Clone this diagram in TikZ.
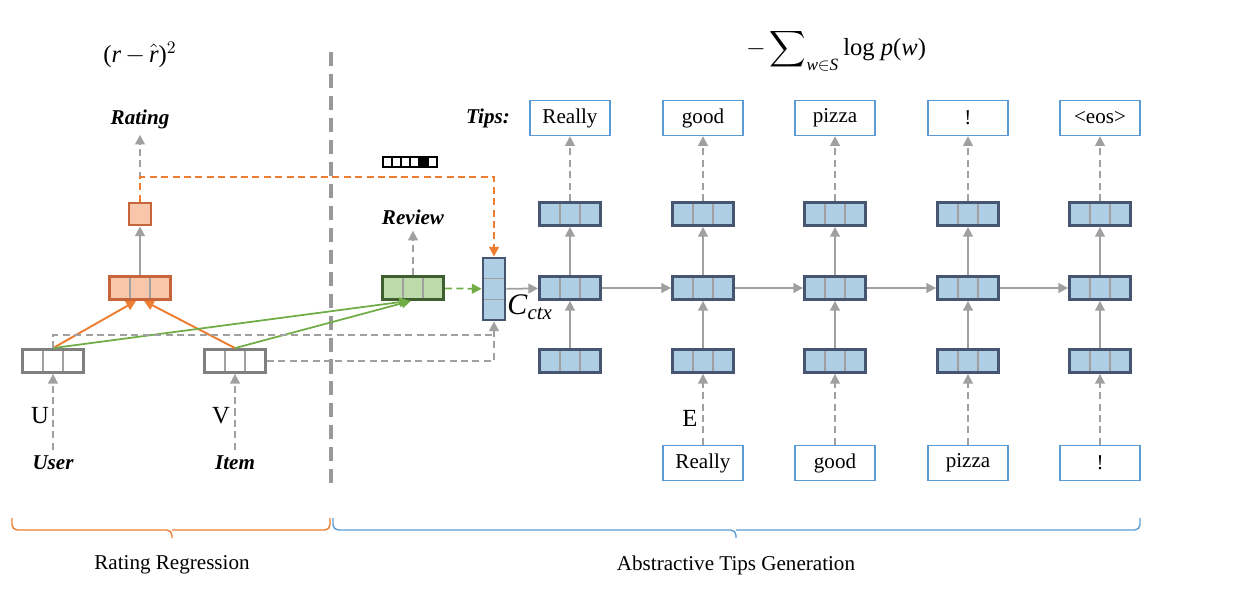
\documentclass[tikz,border=0pt]{standalone}
\usepackage{amsmath}
\usepackage{fontspec}
\setmainfont{Liberation Serif}
\usetikzlibrary{arrows.meta}
\usetikzlibrary{positioning}
\usetikzlibrary{calc}

\definecolor{orgfill}{HTML}{F8C6AA}
\definecolor{orgdraw}{HTML}{C8643A}
\definecolor{orgline}{HTML}{ED7D31}
\definecolor{grnfill}{HTML}{BDDAAA}
\definecolor{grndraw}{HTML}{3F5F30}
\definecolor{grnline}{HTML}{70AD47}
\definecolor{bluefill}{HTML}{AECEE6}
\definecolor{bluedraw}{HTML}{465670}
\definecolor{wordline}{HTML}{5B9BD5}
\definecolor{arrgray}{HTML}{A0A0A0}
\definecolor{boxgray}{HTML}{7F7F7F}
\definecolor{sepgray}{HTML}{999999}

\begin{document}
\begin{tikzpicture}[x=0.02cm,y=-0.02cm,
    font=\fontsize{12}{14}\selectfont,
    >={Triangle[length=5.5pt,width=5.5pt]},
    cells/.style={draw=#1, line width=1.6pt, minimum width=1.22cm, minimum height=0.46cm, inner sep=0pt,
      path picture={\foreach \f in {1,2}
        \draw[arrgray, line width=0.9pt]
          ($(path picture bounding box.north west)!\f/3!(path picture bounding box.north east)$) --
          ($(path picture bounding box.south west)!\f/3!(path picture bounding box.south east)$);}},
    vcells/.style={draw=#1, line width=1.6pt, minimum width=0.44cm, minimum height=1.24cm, inner sep=0pt,
      path picture={\foreach \f in {1,2}
        \draw[arrgray, line width=0.9pt]
          ($(path picture bounding box.north west)!\f/3!(path picture bounding box.south west)$) --
          ($(path picture bounding box.north east)!\f/3!(path picture bounding box.south east)$);}},
    hid/.style={cells=bluedraw, fill=bluefill},
    embbox/.style={cells=boxgray, fill=white},
    mlpbox/.style={cells=orgdraw, fill=orgfill},
    revbox/.style={cells=grndraw, fill=grnfill},
    ctxbox/.style={vcells=bluedraw, fill=bluefill},
    sqbox/.style={draw=orgdraw, fill=orgfill, line width=1.6pt, minimum size=0.44cm, inner sep=0pt},
    wordbox/.style={draw=wordline, line width=0.8pt, minimum width=1.6cm, minimum height=0.7cm, inner sep=0pt},
    bi/.style={font=\fontsize{12}{14}\selectfont\bfseries\itshape},
    garr/.style={->, arrgray, line width=1pt},
    gdash/.style={->, arrgray, line width=1pt, dash pattern=on 4pt off 2.5pt},
    gline/.style={arrgray, line width=1pt, dash pattern=on 4pt off 2.5pt},
    oarr/.style={->, orgline, line width=1.1pt},
    odash/.style={->, orgline, line width=1.1pt, dash pattern=on 4pt off 2.5pt},
    garrn/.style={->, grnline, line width=1pt},
    gndash/.style={->, grnline, line width=1pt, dash pattern=on 4pt off 2.5pt},
    sep/.style={sepgray, line width=2pt, dash pattern=on 8pt off 4.5pt}
  ]

    \useasboundingbox (0,0) rectangle (1248,591);

    % separator
    \draw[sep] (331,52) -- (331,490);

    % rating regression part
    \node (loss) at (140,55) {\fontsize{14}{16}\selectfont(\textit{r}\,$-$\,$\hat{\textit{r}}$)$^{2}$};
    \node[bi] (rating) at (140,119) {Rating};
    \node[sqbox] (rhat) at (140,214) {};
    \node[mlpbox] (mlp) at (140,288) {};
    \node[embbox] (usr) at (53,361) {};
    \node[embbox] (itm) at (235,361) {};
    \node (ulab) at (40,416) {\fontsize{14}{16}\selectfont U};
    \node (vlab) at (221,416) {\fontsize{14}{16}\selectfont V};
    \node[bi] (user) at (53,463) {User};
    \node[bi] (item) at (235,463) {Item};

    \draw[gdash] (user) -- (usr);
    \draw[gdash] (item) -- (itm);
    \draw[oarr] (usr.north) -- ($(mlp.south)+(-4,0)$);
    \draw[oarr] (itm.north) -- ($(mlp.south)+(4,0)$);
    \draw[garr] (mlp) -- (rhat);
    \draw[gdash] (rhat) -- (rating);

    % review part
    \node[revbox] (rev) at (413,288) {};
    \node[bi] (review) at (413,217) {Review};
    \node[ctxbox] (cctx) at (494,289) {};
    \node[anchor=west, inner sep=0pt] (ctxlab) at (507,307) {\fontsize{17}{18}\selectfont\textit{C}$_{\textit{ctx}}$};
    \foreach \i/\c in {0/white,1/white,2/white,3/white,4/black,5/white}
      \draw[black, fill=\c, line width=0.7pt] (383+9*\i,157) rectangle ++(9,10);
    \coordinate (obend) at (494,177);
    \coordinate (ujoin) at (494,335);

    \draw[garrn] (usr.north) -- ($(rev.south)+(-4,0)$);
    \draw[garrn] (itm.north) -- ($(rev.south)+(-2,0)$);
    \draw[gdash] (rev) -- (review);
    \draw[gndash] (rev) -- (cctx);
    \draw[odash] (rhat.north) |- (obend) -- (cctx.north);
    \draw[gline] (usr.north) |- (ujoin);
    \draw[gdash] (itm.east) -| (cctx.south);

    % tips generation part
    \node (nll) at (836,50) {\fontsize{14}{16}\selectfont$-\displaystyle\sum\nolimits_{\textit{w}\in \textit{S}}$\,log \textit{p}(\textit{w})};
    \node[bi] (tips) at (488,118) {Tips:};
    \node (elab) at (690,418) {\fontsize{14}{16}\selectfont E};

    \foreach \i/\x/\w in {1/570/Really, 2/703/good, 3/835/pizza, 4/968/!, 5/1100/<eos>} {
      \node[hid] (h\i) at (\x,361) {};
      \node[hid] (m\i) at (\x,288) {};
      \node[hid] (o\i) at (\x,214) {};
      \node[wordbox] (w\i) at (\x,118) {\w};
      \draw[garr] (h\i) -- (m\i);
      \draw[garr] (m\i) -- (o\i);
      \draw[gdash] (o\i) -- (w\i);
    }
    \foreach \i/\x/\w in {2/703/Really, 3/835/good, 4/968/pizza, 5/1100/!} {
      \node[wordbox] (in\i) at (\x,463) {\w};
      \draw[gdash] (in\i) -- (h\i);
    }
    \draw[garr] (cctx) -- (m1);
    \foreach \i [count=\j from 2] in {1,...,4}
      \draw[garr] (m\i) -- (m\j);

    % braces
    \draw[orgline, line width=0.8pt, rounded corners=3pt] (12,518) |- (172,530) -- (172,538);
    \draw[orgline, line width=0.8pt, rounded corners=3pt] (172,530) -| (330,518);
    \draw[wordline, line width=0.8pt, rounded corners=3pt] (333,518) |- (736,530) -- (736,538);
    \draw[wordline, line width=0.8pt, rounded corners=3pt] (736,530) -| (1140,518);
    \node (rr) at (172,565) {Rating Regression};
    \node (atg) at (736,565) {Abstractive Tips Generation};
  \end{tikzpicture}
\end{document}
